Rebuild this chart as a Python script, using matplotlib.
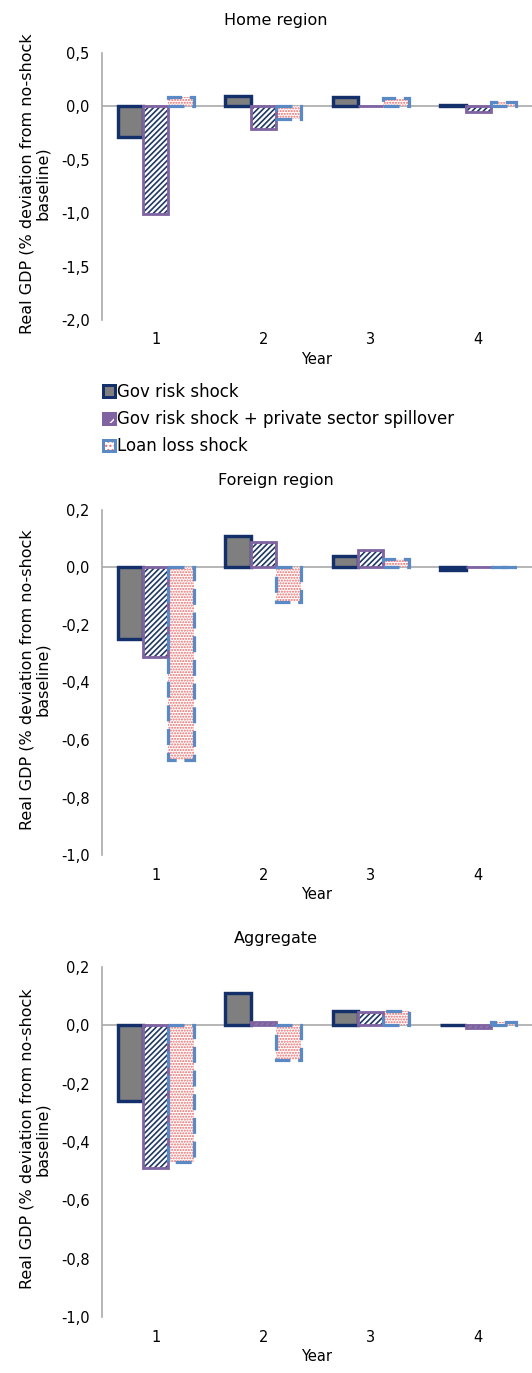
import matplotlib
matplotlib.use('Agg')
import matplotlib.pyplot as plt
from matplotlib.patches import Patch
from matplotlib.legend_handler import HandlerTuple
import numpy as np

# ---------------- data ----------------
years = ['1', '2', '3', '4']
series_names = ['Gov risk shock',
                'Gov risk shock + private sector spillover',
                'Loan loss shock']

home_gov = [-0.29, 0.10, 0.09, 0.01]
home_spill = [-1.01, -0.21, 0.0, -0.05]
home_loan = [0.09, -0.12, 0.08, 0.04]

foreign_gov = [-0.25, 0.11, 0.04, -0.01]
foreign_spill = [-0.31, 0.09, 0.06, 0.0]
foreign_loan = [-0.67, -0.12, 0.03, 0.0]

agg_gov = [-0.26, 0.11, 0.05, 0.0]
agg_spill = [-0.49, 0.01, 0.045, -0.01]
agg_loan = [-0.47, -0.12, 0.05, 0.01]

panel_titles = ['Home region', 'Foreign region', 'Aggregate']
home_yticks = [0.5, 0.0, -0.5, -1.0, -1.5, -2.0]
foreign_yticks = [0.2, 0.0, -0.2, -0.4, -0.6, -0.8, -1.0]
agg_yticks = [0.2, 0.0, -0.2, -0.4, -0.6, -0.8, -1.0]
ylabel_text = 'Real GDP (% deviation from no-shock\nbaseline)'
xlabel_text = 'Year'

# ---------------- style ----------------
W, H = 532, 1373
DPI = 100
fig = plt.figure(figsize=(W / DPI, H / DPI), dpi=DPI)
plt.rcParams['font.family'] = ['DejaVu Sans']

GRAY_AX = '#A6A6A6'
GOV_FACE = '#7F7F7F'
GOV_EDGE = '#14306A'
SPILL_EDGE = '#8064A2'
SPILL_HATCH = '#1F3864'
LOAN_EDGE = '#5A8AC6'
LOAN_DOTS = '#EE6666'
TICK_FS = 10.5
YLAB_FS = 11.5
TITLE_FS = 11.5
LEG_FS = 12
SPILL_HATCH_PAT = '//////'
LOAN_HATCH_PAT = '......'


def px2pt(p):
    return p * 72.0 / DPI


panels = [
    (panel_titles[0], home_gov, home_spill, home_loan, home_yticks, 53, 320, 20),
    (panel_titles[1], foreign_gov, foreign_spill, foreign_loan, foreign_yticks, 510, 855, 480),
    (panel_titles[2], agg_gov, agg_spill, agg_loan, agg_yticks, 967, 1317, 938),
]

left_px = 102
bw = 0.235
x = np.arange(1, len(years) + 1)

for title, gov, spill, loan, yt, top_px, bot_px, title_px in panels:
    ax = fig.add_axes([left_px / W, 1 - bot_px / H, (W - left_px) / W, (bot_px - top_px) / H])
    ax.set_xlim(0.5, len(years) + 0.5)
    ax.set_ylim(min(yt), max(yt))

    ax.axhline(0, color=GRAY_AX, lw=px2pt(1.6), zorder=1)

    # Gov risk shock
    ax.bar(x - bw, gov, bw, facecolor=GOV_FACE, edgecolor=GOV_EDGE,
           linewidth=px2pt(3.4), zorder=3)
    # Spillover: hatch layer + edge layer
    with plt.rc_context({'hatch.linewidth': 1.2}):
        ax.bar(x, spill, bw, facecolor='white', edgecolor=SPILL_HATCH,
               hatch=SPILL_HATCH_PAT, linewidth=0, zorder=3)
    ax.bar(x, spill, bw, facecolor='none', edgecolor=SPILL_EDGE,
           linewidth=px2pt(2.8), zorder=4)
    # Loan loss: dotted fill + dashed edge
    with plt.rc_context({'hatch.linewidth': 1.0}):
        ax.bar(x + bw, loan, bw, facecolor='white', edgecolor=LOAN_DOTS,
               hatch=LOAN_HATCH_PAT, linewidth=0, zorder=3)
    ax.bar(x + bw, loan, bw, facecolor='none', edgecolor=LOAN_EDGE,
           linewidth=px2pt(3.2), linestyle=(0, (5.0, 2.4)), zorder=4)

    for s in ['top', 'right', 'bottom']:
        ax.spines[s].set_visible(False)
    ax.spines['left'].set_color(GRAY_AX)
    ax.spines['left'].set_linewidth(px2pt(1.6))

    ax.set_yticks(yt)
    ax.set_yticklabels([f'{v:.1f}'.replace('.', ',') for v in yt], fontsize=TICK_FS)
    ax.set_xticks(x)
    ax.set_xticklabels(years, fontsize=TICK_FS)
    ax.tick_params(axis='y', length=0, pad=9)
    ax.tick_params(axis='x', length=0, pad=9)
    ax.set_xlabel(xlabel_text, fontsize=TICK_FS, labelpad=3)

    fig.text(276 / W, 1 - title_px / H, title, fontsize=TITLE_FS,
             ha='center', va='center')
    fig.text(35 / W, 1 - (top_px + bot_px - 6) / 2 / H, ylabel_text, fontsize=YLAB_FS,
             rotation=90, ha='center', va='center', multialignment='center',
             linespacing=1.05)

# ---------------- legend ----------------
h_gov = Patch(facecolor=GOV_FACE, edgecolor=GOV_EDGE, linewidth=px2pt(3.0))
with plt.rc_context({'hatch.linewidth': 1.6}):
    h_sp1 = Patch(facecolor=SPILL_EDGE, edgecolor='white', hatch='/', linewidth=0)
h_sp2 = Patch(facecolor='none', edgecolor=SPILL_EDGE, linewidth=px2pt(3.0))
with plt.rc_context({'hatch.linewidth': 1.0}):
    h_l1 = Patch(facecolor='white', edgecolor=LOAN_DOTS, hatch='....', linewidth=0)
h_l2 = Patch(facecolor='none', edgecolor=LOAN_EDGE, linewidth=px2pt(3.0))

fig.legend([h_gov, (h_sp1, h_sp2), (h_l1, h_l2)], series_names,
           handler_map={tuple: HandlerTuple(ndivide=1, pad=0)},
           loc='upper left', bbox_to_anchor=(103 / W, 1 - 383 / H),
           frameon=False, fontsize=LEG_FS, handlelength=0.7, handleheight=0.7,
           handletextpad=0.15, labelspacing=0.55, borderpad=0, borderaxespad=0)

fig.savefig('out.png', dpi=DPI)
